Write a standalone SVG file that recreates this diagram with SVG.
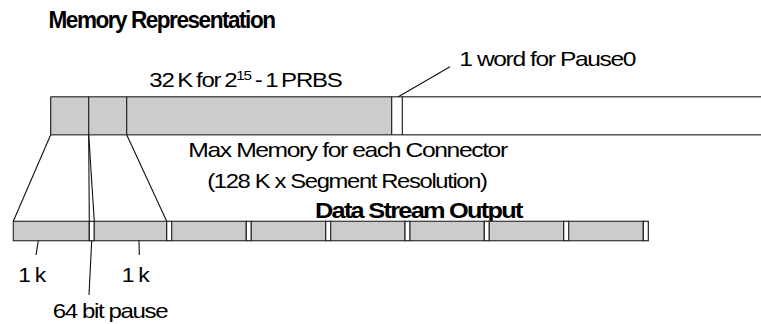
<svg xmlns="http://www.w3.org/2000/svg" width="761" height="324" viewBox="0 0 761 324">
<style>
text{font-family:"Liberation Sans",Arial,sans-serif;fill:#000;letter-spacing:-1.2px}
.t{font-size:21px}
.b{font-size:22px;font-weight:bold;letter-spacing:-1.5px}
.g{fill:#cccccc;stroke:#333;stroke-width:1.2}
.w{fill:#fff;stroke:#222;stroke-width:1.2}
.ln{stroke:#111;stroke-width:1.1;fill:none}
.edge{stroke:#555;stroke-width:1.4;fill:none}
</style>
<rect width="761" height="324" fill="#fff"/>
<text id="title" class="b" x="48.5" y="28" textLength="226" lengthAdjust="spacingAndGlyphs" style="font-size:23px">Memory Representation</text>

<g id="memory-bar">
<rect x="50.7" y="96.7" width="341" height="38" fill="#cccccc"/>
<line class="edge" x1="50.7" y1="96.7" x2="762" y2="96.7"/>
<line class="edge" x1="50.7" y1="134.7" x2="762" y2="134.7"/>
<line class="ln" x1="50.7" y1="96.7" x2="50.7" y2="134.7"/>
<line class="ln" x1="88.7" y1="96.7" x2="88.7" y2="134.7"/>
<line class="ln" x1="126.7" y1="96.7" x2="126.7" y2="134.7"/>
<line class="ln" x1="391.7" y1="96.7" x2="391.7" y2="134.7"/>
<line class="ln" x1="402.3" y1="96.7" x2="402.3" y2="134.7"/>
</g>

<g id="label-prbs">
<text x="149.3" y="87.3" style="font-size:20.5px;letter-spacing:-1px;word-spacing:-1.5px" textLength="192.4" lengthAdjust="spacingAndGlyphs">32 K for 2<tspan dy="-7.3" style="font-size:13px">15</tspan><tspan dy="7.3"> - 1 PRBS</tspan></text>
</g>
<g id="label-pause0">
<text class="t" x="459.3" y="66" textLength="175.7" lengthAdjust="spacingAndGlyphs">1 word for Pause0</text>
</g>
<g id="label-max">
<text class="t" x="188.3" y="156.7" textLength="318.4" lengthAdjust="spacingAndGlyphs">Max Memory for each Connector</text>
<text class="t" x="207.3" y="188.3" textLength="279.4" lengthAdjust="spacingAndGlyphs">(128 K x Segment Resolution)</text>
</g>

<text id="label-stream" class="b" x="315" y="218.3" textLength="206.7" lengthAdjust="spacingAndGlyphs">Data Stream Output</text>

<g id="stream-bar">
<rect class="g" x="13.3" y="221.3" width="76" height="19.4"/>
<rect class="w" x="89.3" y="221.3" width="5" height="19.4"/>
<rect class="g" x="94.3" y="221.3" width="72.4" height="19.4"/>
<rect class="w" x="166.7" y="221.3" width="5" height="19.4"/>
<rect class="g" x="171.7" y="221.3" width="74.6" height="19.4"/>
<rect class="w" x="246.3" y="221.3" width="5" height="19.4"/>
<rect class="g" x="251.3" y="221.3" width="74.4" height="19.4"/>
<rect class="w" x="325.7" y="221.3" width="5" height="19.4"/>
<rect class="g" x="330.7" y="221.3" width="74.3" height="19.4"/>
<rect class="w" x="405" y="221.3" width="5" height="19.4"/>
<rect class="g" x="410" y="221.3" width="74.3" height="19.4"/>
<rect class="w" x="484.3" y="221.3" width="5" height="19.4"/>
<rect class="g" x="489.3" y="221.3" width="74.4" height="19.4"/>
<rect class="w" x="563.7" y="221.3" width="5" height="19.4"/>
<rect class="g" x="568.7" y="221.3" width="74.6" height="19.4"/>
<rect class="w" x="643.3" y="221.3" width="5" height="19.4"/>
</g>

<g id="connectors">
<line class="ln" x1="398.3" y1="96.7" x2="450" y2="66.7"/>
<line class="ln" x1="50.7" y1="134.7" x2="13.3" y2="221.3"/>
<line class="ln" x1="88.7" y1="134.7" x2="89.3" y2="221.3"/>
<line class="ln" x1="88.7" y1="134.7" x2="94.3" y2="221.3"/>
<line class="ln" x1="126.7" y1="134.7" x2="166.7" y2="221.3"/>
<line class="ln" x1="38.3" y1="240.7" x2="36" y2="255"/>
<line class="ln" x1="139" y1="240.7" x2="139.3" y2="255"/>
<line class="ln" x1="91.7" y1="240.7" x2="89" y2="295"/>
</g>

<g id="labels-bottom">
<text class="t" x="18.3" y="281.7" textLength="26.7" lengthAdjust="spacingAndGlyphs">1 k</text>
<text class="t" x="121.7" y="281.7" textLength="26.7" lengthAdjust="spacingAndGlyphs">1 k</text>
<text class="t" x="52.7" y="318.3" textLength="114.6" lengthAdjust="spacingAndGlyphs">64 bit pause</text>
</g>
</svg>
